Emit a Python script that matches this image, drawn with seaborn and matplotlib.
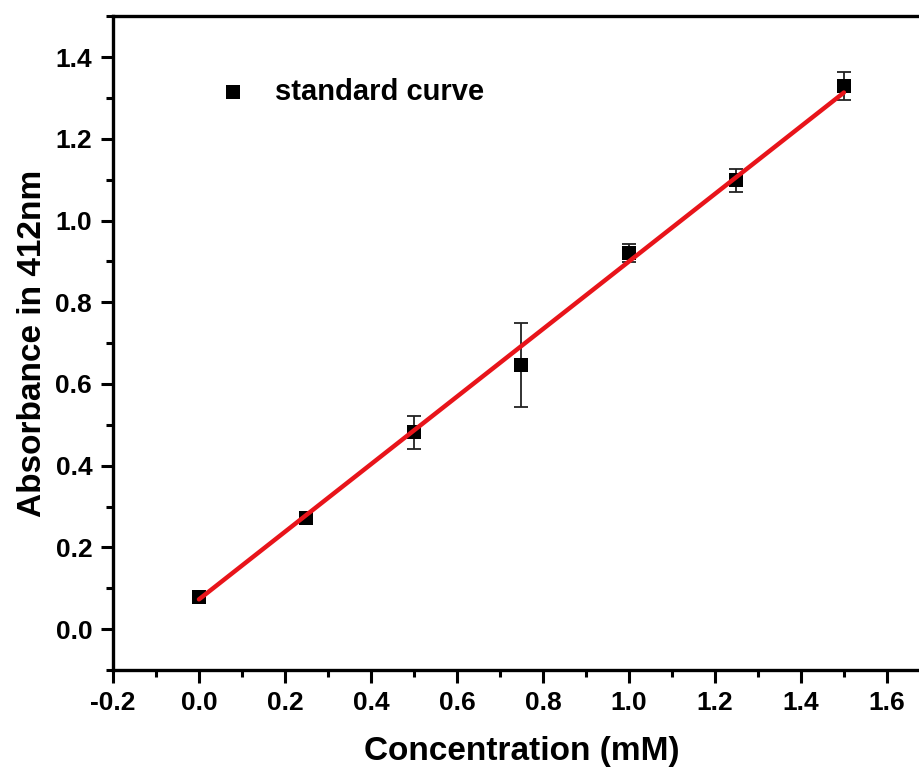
import matplotlib
matplotlib.use("Agg")
import matplotlib.pyplot as plt
import seaborn as sns
import numpy as np
import pandas as pd
from matplotlib.ticker import MultipleLocator

# standard curve data
conc = [0.0, 0.25, 0.5, 0.75, 1.0, 1.25, 1.5]
absorb = [0.078, 0.273, 0.482, 0.646, 0.92, 1.098, 1.33]
err = [0.006, 0.006, 0.04, 0.102, 0.022, 0.028, 0.034]

xticks = [-0.2, 0.0, 0.2, 0.4, 0.6, 0.8, 1.0, 1.2, 1.4, 1.6]
yticks = [0.0, 0.2, 0.4, 0.6, 0.8, 1.0, 1.2, 1.4]

df = pd.DataFrame({"conc": conc, "absorb": absorb, "err": err})

# weighted linear fit (instrumental weighting)
fit = np.polyfit(df["conc"], df["absorb"], 1, w=1 / df["err"])
df["fit"] = np.polyval(fit, df["conc"])

sns.set_style("ticks")
plt.rcParams['font.family'] = ['Liberation Sans', 'DejaVu Sans']
plt.rcParams['font.weight'] = 'bold'
plt.rcParams['text.color'] = 'black'
plt.rcParams['axes.labelcolor'] = 'black'
plt.rcParams['xtick.color'] = 'black'
plt.rcParams['ytick.color'] = 'black'

fig = plt.figure(figsize=(9.2, 7.75), dpi=100)
ax = fig.add_axes([0.1228, 0.1355, 0.888, 0.8436])

# error bars
ax.errorbar(df["conc"], df["absorb"], yerr=df["err"], fmt="none",
            ecolor="#222222", elinewidth=1.3, capsize=4.7, capthick=1.3, zorder=2)

# points
sns.scatterplot(data=df, x="conc", y="absorb", marker="s", s=95, color="black",
                edgecolor="black", linewidth=0, label="standard curve", ax=ax, zorder=3)

# fitted line
sns.lineplot(data=df, x="conc", y="fit", color="#e8141a", lw=3.2, ax=ax,
             zorder=4, legend=False)

ax.set_xlim(-0.2, 1.7)
ax.set_ylim(-0.1, 1.5)
ax.xaxis.set_minor_locator(MultipleLocator(0.1))
ax.yaxis.set_minor_locator(MultipleLocator(0.1))
ax.set_xticks(xticks)
ax.set_xticklabels([f"{v:.1f}" for v in xticks])
ax.set_yticks(yticks)
ax.set_yticklabels([f"{v:.1f}" for v in yticks])

ax.tick_params(which="major", direction="out", length=9, width=2.2, labelsize=19, pad=6)
ax.tick_params(which="minor", direction="out", length=5, width=2.2)
for lab in ax.get_xticklabels() + ax.get_yticklabels():
    lab.set_fontweight("bold")

for side in ["left", "bottom", "top"]:
    ax.spines[side].set_linewidth(2.4)
    ax.spines[side].set_color("black")
ax.spines["right"].set_visible(False)

ax.set_xlabel("Concentration (mM)", fontsize=24, fontweight="bold", labelpad=15)
ax.set_ylabel("Absorbance in 412nm", fontsize=24, fontweight="bold", labelpad=5)

leg = ax.legend(loc="center left", bbox_to_anchor=(0.1285, 0.884), frameon=False,
                fontsize=21, handlelength=1.0, handletextpad=0.95,
                borderpad=0, borderaxespad=0)
for t in leg.get_texts():
    t.set_fontweight("bold")

fig.savefig("out.png", dpi=100)
